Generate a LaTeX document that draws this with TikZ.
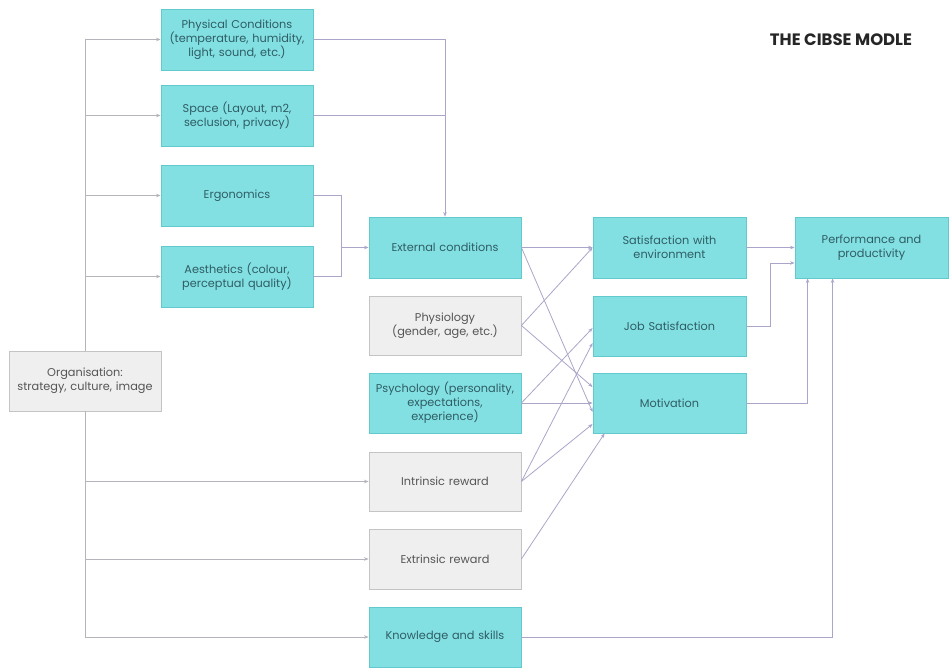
\documentclass[tikz,border=0pt]{standalone}
\usepackage{fontspec}
\setmainfont{Poppins}
\usetikzlibrary{arrows.meta,calc}
\definecolor{boxcyan}{HTML}{82E0E3}
\definecolor{boxcyanline}{HTML}{62C9CD}
\definecolor{cyantext}{HTML}{2F5D63}
\definecolor{boxgrey}{HTML}{EFEFEF}
\definecolor{boxgreyline}{HTML}{C4C4C4}
\definecolor{greytext}{HTML}{555555}
\definecolor{linkcol}{HTML}{A9A6C9}
\definecolor{trunkcol}{HTML}{B4B4BC}
\tikzset{
  basebox/.style={rectangle, minimum width=152pt, minimum height=61pt,
    text width=150pt, align=center, line width=0.8pt,
    font=\fontsize{11.3}{14}\selectfont, inner sep=1pt},
  cbox/.style={basebox, fill=boxcyan, draw=boxcyanline, text=cyantext},
  gbox/.style={basebox, fill=boxgrey, draw=boxgreyline, text=greytext},
  link/.style={draw=linkcol, line width=0.8pt},
  linkarrow/.style={link, -{Stealth[length=4.5pt,width=3.5pt]}},
  trunk/.style={draw=trunkcol, line width=0.9pt},
  trunkarrow/.style={trunk, -{Stealth[length=4.5pt,width=3.5pt]}}
}
\begin{document}
\begin{tikzpicture}[x=1pt,y=-1pt]
\useasboundingbox (0,0) rectangle (950,668);
\fill[white] (0,0) rectangle (950,668);

% left column of workplace factors
\node[cbox] (phys)  at (237,39.5)  {Physical Conditions\\(temperature, humidity,\\light, sound, etc.)};
\node[cbox] (space) at (237,115.5) {Space (Layout, m2,\\seclusion, privacy)};
\node[cbox] (ergo)  at (237,195.5) {Ergonomics};
\node[cbox] (aest)  at (237,276.5) {Aesthetics (colour,\\perceptual quality)};
\node[gbox, minimum height=60pt] (org) at (85,381) {Organisation:\\strategy, culture, image};

% middle column
\node[cbox] (ext)    at (445,247.5) {External conditions};
\node[gbox, minimum height=59pt] (physio) at (445,325.5) {Physiology\\(gender, age, etc.)};
\node[cbox, minimum height=60pt] (psych)  at (445,403)   {Psychology (personality,\\expectations,\\experience)};
\node[gbox, minimum height=59pt] (intr)   at (445,481.5) {Intrinsic reward};
\node[gbox, minimum height=60pt] (extr)   at (445,559)   {Extrinsic reward};
\node[cbox, minimum height=60pt] (know)   at (445,637)   {Knowledge and skills};

% outcomes
\node[cbox, minimum width=153pt] (sat) at (669.5,247.5) {Satisfaction with\\environment};
\node[cbox, minimum width=153pt, minimum height=60pt] (job) at (669.5,326) {Job Satisfaction};
\node[cbox, minimum width=153pt, minimum height=60pt] (mot) at (669.5,403) {Motivation};
\node[cbox, minimum width=153pt] (perf) at (871.5,247.5) {Performance and\\productivity};

\node[font=\fontsize{16.5}{19}\selectfont\bfseries, text=black!85] (title) at (841,40) {THE CIBSE MODLE};

% organisation trunk and branches
\draw[trunkarrow] (org.north) |- (phys.west);
\draw[trunkarrow] (org.north) |- (space.west);
\draw[trunkarrow] (org.north) |- (ergo.west);
\draw[trunkarrow] (org.north) |- (aest.west);
\draw[trunkarrow] (org.south) |- (intr.west);
\draw[trunkarrow] (org.south) |- (extr.west);
\draw[trunkarrow] (org.south) |- (know.west);

% physical factors into external conditions
\draw[linkarrow] (phys.east) -| (ext.north);
\draw[link] (space.east) -- (space.east -| ext.north);
\coordinate (merge) at (341,247.5);
\draw[link] (ergo.east) -| (merge);
\draw[link] (aest.east) -| (merge);
\draw[linkarrow] (merge) -- (ext.west);

% crossing links to outcomes
\draw[linkarrow] (ext.east) -- (sat.west);
\draw[linkarrow] (ext.east) -- ($(mot.west)+(0,9)$);
\draw[linkarrow] (physio.east) -- (sat.west);
\draw[linkarrow] (physio.east) -- ($(mot.west)+(0,-16)$);
\draw[linkarrow] (psych.east) -- ($(job.west)+(0,2)$);
\draw[linkarrow] (psych.east) -- (mot.west);
\draw[linkarrow] (intr.east) -- ($(job.west)+(0,17)$);
\draw[linkarrow] (intr.east) -- ($(mot.west)+(0,21)$);
\draw[linkarrow] (extr.east) -- ($(mot.south west)+(12,0)$);

% outcomes into performance
\draw[linkarrow] (sat.east) -- (perf.west);
\coordinate (jobbend) at (770,326);
\draw[linkarrow] (job.east) -- (jobbend) |- ($(perf.west)+(0,15.5)$);
\draw[linkarrow] (mot.east) -| ($(perf.south west)+(13,0)$);
\draw[linkarrow] (know.east) -| ($(perf.south west)+(38,0)$);
\end{tikzpicture}
\end{document}
